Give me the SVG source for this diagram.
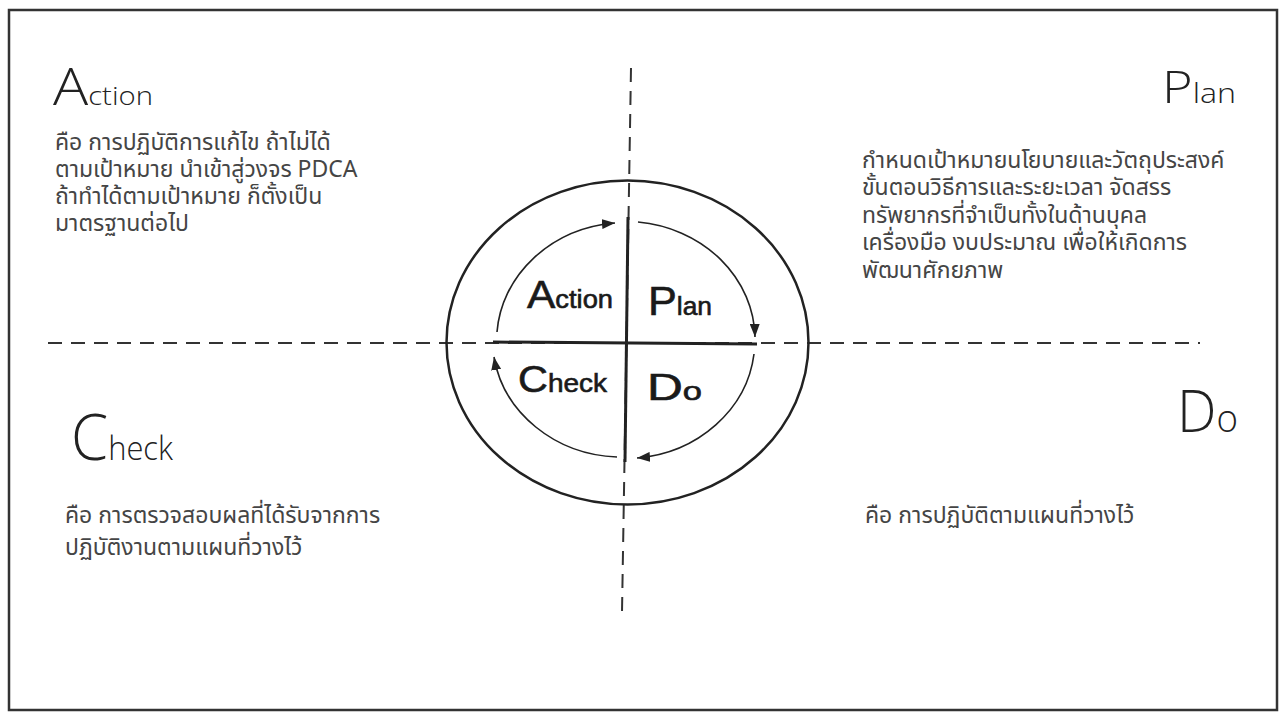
<svg xmlns="http://www.w3.org/2000/svg" width="1279" height="713" viewBox="0 0 1279 713">
<style>
.title{font-family:"Open Sans","Lato","Liberation Sans",sans-serif;font-weight:300;fill:#222}
.thai{font-family:"Noto Sans Thai","Noto Sans Thai UI","Leelawadee UI",Tahoma,"Noto Sans","DejaVu Sans",sans-serif;font-size:23px;fill:#454545}
.lbl{font-family:"Liberation Sans",Arial,sans-serif;fill:#1a1a1a;stroke:#1a1a1a;stroke-width:0.6}
.dash{fill:none;stroke:#333;stroke-width:2;stroke-dasharray:14 9}
.solid{fill:none;stroke:#222;stroke-width:3}
.arc{fill:none;stroke:#222;stroke-width:1.6}
</style>
<defs>
<marker id="ah" markerUnits="userSpaceOnUse" markerWidth="14" markerHeight="10" refX="13" refY="5" orient="auto">
<path d="M0,0 L13,5 L0,10 Z" fill="#222"/>
</marker>
</defs>
<rect width="1279" height="713" fill="#fff"/>
<rect x="9" y="10" width="1268" height="700" fill="none" stroke="#333" stroke-width="2.5"/>

<g id="axes">
<line class="dash" x1="48" y1="343" x2="1200" y2="343"/>
<line class="dash" x1="631" y1="68" x2="622" y2="612"/>
</g>

<g id="cycle">
<ellipse cx="627.5" cy="342.5" rx="181" ry="162" fill="none" stroke="#222" stroke-width="2.5"/>
<line class="solid" x1="493" y1="342" x2="757" y2="344"/>
<line class="solid" x1="628" y1="217" x2="625" y2="462"/>
</g>

<g id="connectors">
<path class="arc" d="M497,332 A130,118 0 0 1 615,223" marker-end="url(#ah)"/>
<path class="arc" d="M638,222 A130,118 0 0 1 755,337" marker-end="url(#ah)"/>
<path class="arc" d="M754,354 A130,118 0 0 1 637,458" marker-end="url(#ah)"/>
<path class="arc" d="M617,457 A130,118 0 0 1 494,357" marker-end="url(#ah)"/>
</g>

<g id="center-action"><text class="lbl" x="527" y="308" textLength="86" lengthAdjust="spacingAndGlyphs"><tspan font-size="39">A</tspan><tspan font-size="25">ction</tspan></text></g>
<g id="center-plan"><text class="lbl" x="648" y="315" textLength="64" lengthAdjust="spacingAndGlyphs"><tspan font-size="41">P</tspan><tspan font-size="25">lan</tspan></text></g>
<g id="center-check"><text class="lbl" x="518" y="392" textLength="89" lengthAdjust="spacingAndGlyphs"><tspan font-size="37">C</tspan><tspan font-size="25">heck</tspan></text></g>
<g id="center-do"><text class="lbl" x="647" y="400" textLength="55" lengthAdjust="spacingAndGlyphs"><tspan font-size="36">D</tspan><tspan font-size="25">o</tspan></text></g>

<g id="action">
<text class="title" x="53" y="105" textLength="100" lengthAdjust="spacingAndGlyphs"><tspan font-size="52">A</tspan><tspan font-size="26">ction</tspan></text>
<text class="thai"><tspan x="55" y="150">คือ การปฏิบัติการแก้ไข ถ้าไม่ได้</tspan><tspan x="55" y="177">ตามเป้าหมาย นำเข้าสู่วงจร PDCA</tspan><tspan x="55" y="204">ถ้าทำได้ตามเป้าหมาย ก็ตั้งเป็น</tspan><tspan x="55" y="231">มาตรฐานต่อไป</tspan></text>
</g>

<g id="plan">
<text class="title" x="1162" y="103" textLength="74" lengthAdjust="spacingAndGlyphs"><tspan font-size="44">P</tspan><tspan font-size="27">lan</tspan></text>
<text class="thai"><tspan x="862" y="168">กำหนดเป้าหมายนโยบายและวัตถุประสงค์</tspan><tspan x="862" y="195">ขั้นตอนวิธีการและระยะเวลา จัดสรร</tspan><tspan x="862" y="223">ทรัพยากรที่จำเป็นทั้งในด้านบุคล</tspan><tspan x="862" y="250">เครื่องมือ งบประมาณ เพื่อให้เกิดการ</tspan><tspan x="862" y="278">พัฒนาศักยภาพ</tspan></text>
</g>

<g id="check">
<text class="title" x="71" y="460" textLength="102" lengthAdjust="spacingAndGlyphs"><tspan font-size="64">C</tspan><tspan font-size="33">heck</tspan></text>
<text class="thai"><tspan x="65" y="523">คือ การตรวจสอบผลที่ได้รับจากการ</tspan><tspan x="65" y="555">ปฏิบัติงานตามแผนที่วางไว้</tspan></text>
</g>

<g id="do">
<text class="title" x="1177" y="432" textLength="61" lengthAdjust="spacingAndGlyphs"><tspan font-size="58">D</tspan><tspan font-size="38">o</tspan></text>
<text class="thai"><tspan x="865" y="523">คือ การปฏิบัติตามแผนที่วางไว้</tspan></text>
</g>
</svg>
